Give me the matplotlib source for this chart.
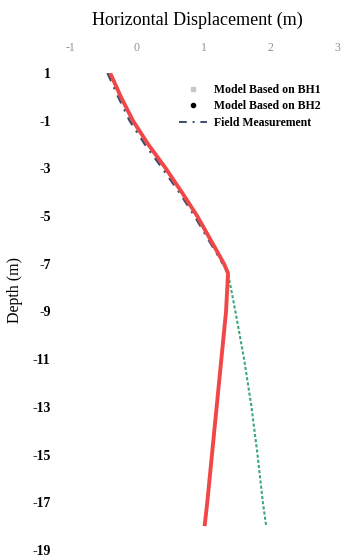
import matplotlib.pyplot as plt
from matplotlib.lines import Line2D
import numpy as np

# depth (m) and horizontal displacement (m)
depth_model = [1, 0, -1, -2, -3, -4, -5, -6, -7, -7.4, -9, -11, -13, -15, -17, -18]
disp_bh1 = [-0.40, -0.24, -0.06, 0.17, 0.43, 0.67, 0.90, 1.10, 1.30, 1.36,
            1.33, 1.26, 1.19, 1.12, 1.05, 1.01]
disp_bh2 = [-0.40, -0.24, -0.06, 0.17, 0.43, 0.67, 0.90, 1.10, 1.30, 1.36,
            1.47, 1.60, 1.71, 1.80, 1.88, 1.93]

depth_field = [1, 0, -1, -2, -3, -4, -5, -6, -7]
disp_field = [-0.44, -0.28, -0.11, 0.12, 0.38, 0.63, 0.86, 1.07, 1.28]

x_ticks = [-1, 0, 1, 2, 3]
y_ticks = [1, -1, -3, -5, -7, -9, -11, -13, -15, -17, -19]
legend_labels = ['Model Based on BH1', 'Model Based on BH2', 'Field Measurement']

plt.rcParams['font.family'] = ['Liberation Serif', 'DejaVu Serif']
plt.rcParams['axes.unicode_minus'] = False

fig = plt.figure(figsize=(3.47, 5.6), dpi=100)
ax = fig.add_axes([0.2017, 0.0179, 0.772, 0.8517])

ax.plot(disp_bh2, depth_model, color='#3aa87a', lw=1.5, ls=(0, (1.5, 1)), zorder=2)
ax.plot(disp_field, depth_field, color='#3c4a6a', lw=1.6, ls=(0, (4, 3, 1, 3)), zorder=3)
ax.plot(disp_bh1, depth_model, color='#f04848', lw=2.8, solid_capstyle='butt', zorder=4)

ax.set_xlim(-1, 3)
ax.set_ylim(-19, 1)
ax.set_xticks(x_ticks)
ax.set_yticks(y_ticks)
ax.xaxis.tick_top()
ax.tick_params(axis='x', length=0, pad=14, labelsize=8.5, labelcolor='#909090')
ax.tick_params(axis='y', length=0, pad=14, labelsize=10)
for lab in ax.get_yticklabels():
    lab.set_fontweight('bold')
for s in ax.spines.values():
    s.set_visible(False)

fig.text(197 / 347, 1 - 20 / 560, 'Horizontal Displacement (m)', ha='center', va='center', fontsize=13)
fig.text(15 / 347, 1 - 290 / 560, 'Depth (m)', rotation=90, ha='center', va='center', fontsize=11.5)

handles = [
    Line2D([], [], color='#c8c8c8', marker='s', ms=3, ls='none'),
    Line2D([], [], color='black', marker='o', ms=3, ls='none'),
    Line2D([], [], color='#3c4a6a', lw=1.4, ls=(0, (4, 3, 1, 3))),
]
leg = ax.legend(handles, legend_labels, loc='upper right', bbox_to_anchor=(0.975, 1.0),
                frameon=False, fontsize=8.5, handlelength=2.4, handletextpad=0.6, labelspacing=0.4)
for t in leg.get_texts():
    t.set_fontweight('bold')

fig.savefig('out.png', dpi=100)
